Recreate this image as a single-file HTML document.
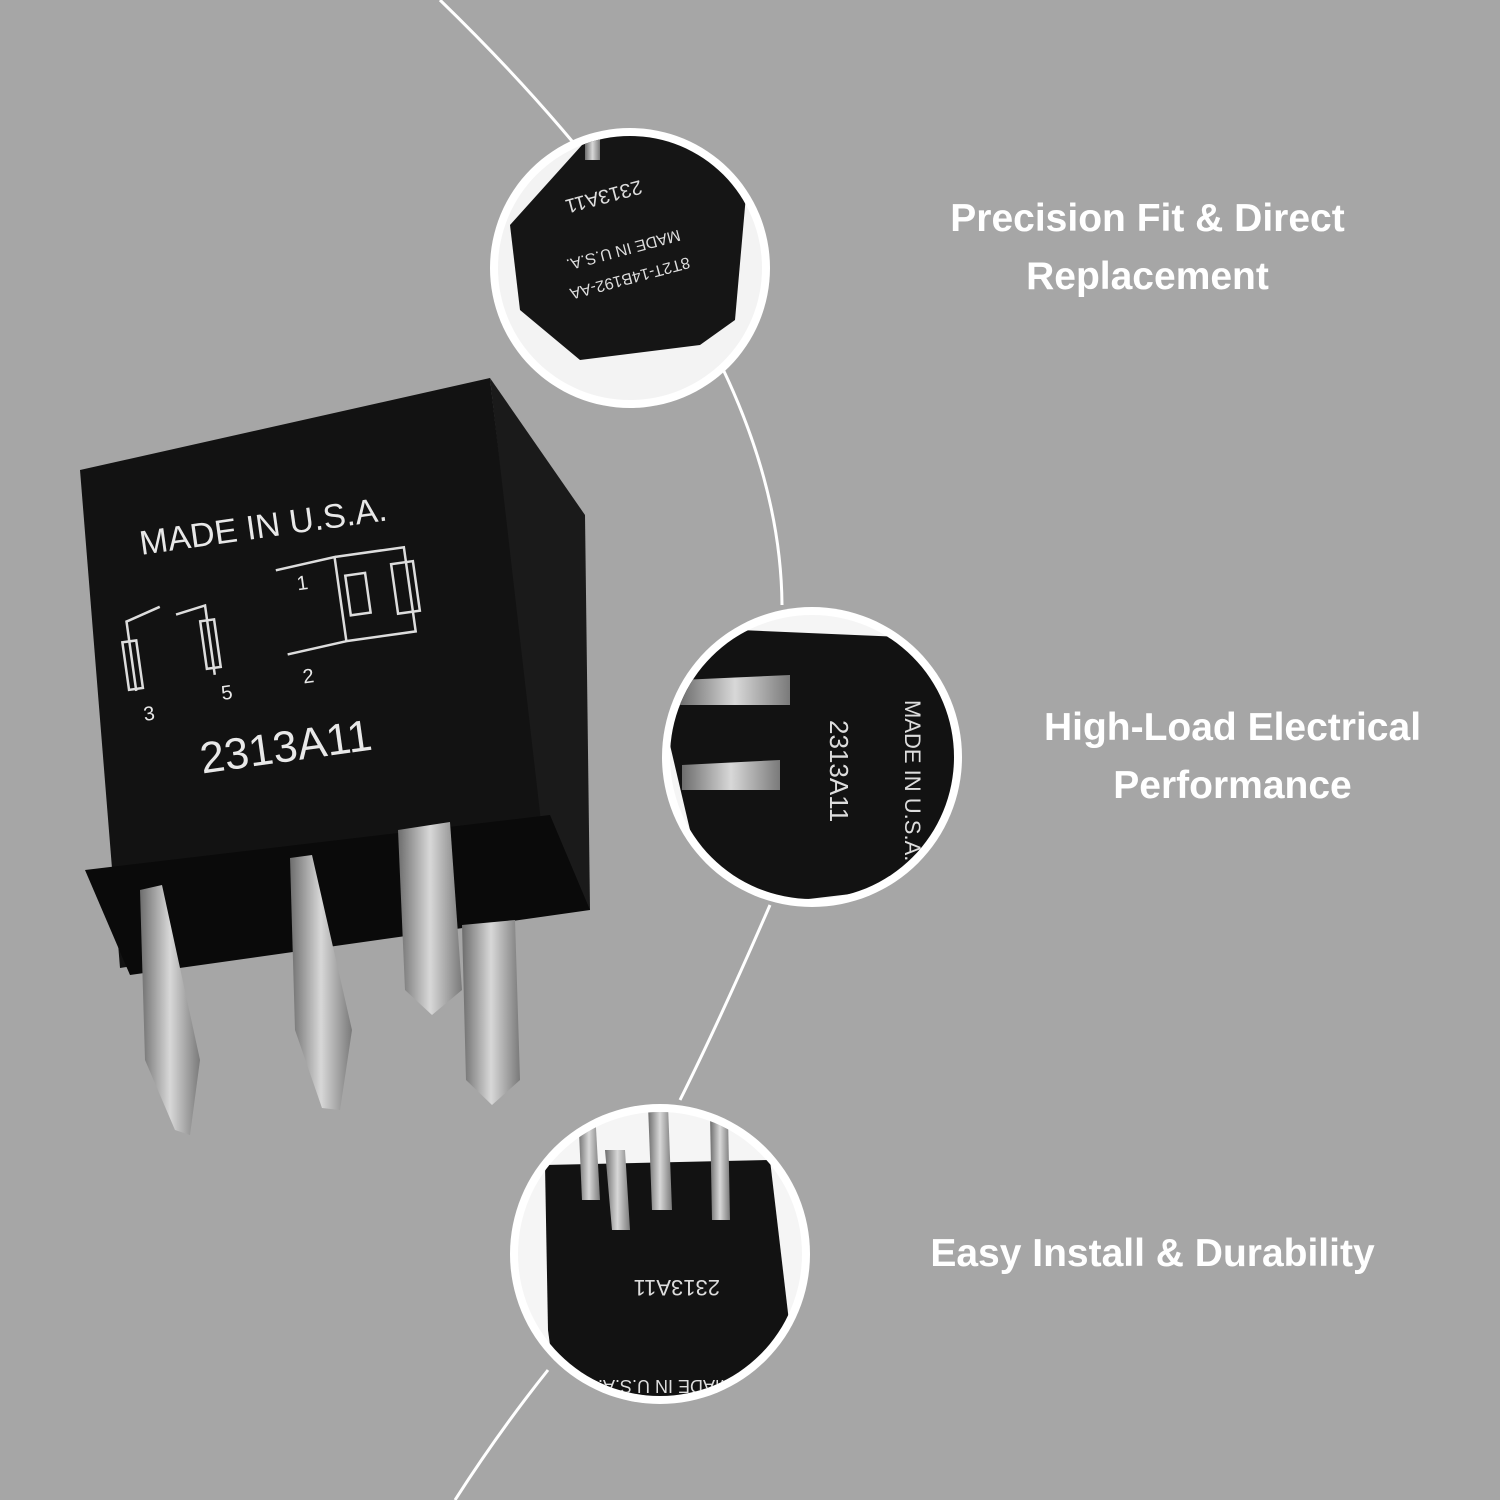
<!DOCTYPE html>
<html><head><meta charset="utf-8"><style>
html,body{margin:0;padding:0;}
body{width:1500px;height:1500px;background:#a6a6a6;overflow:hidden;position:relative;font-family:"Liberation Sans",sans-serif;}
.t{position:absolute;color:#fff;font-weight:bold;font-size:39px;text-align:center;line-height:58px;}
</style></head><body>
<svg width="1500" height="1500" style="position:absolute;left:0;top:0">
<defs>
<linearGradient id="pin" x1="0" x2="1"><stop offset="0" stop-color="#6d6d6d"/><stop offset="0.5" stop-color="#d8d8d8"/><stop offset="1" stop-color="#7a7a7a"/></linearGradient>
<clipPath id="c1"><circle cx="630" cy="268" r="132"/></clipPath>
<clipPath id="c2"><circle cx="812" cy="757" r="142"/></clipPath>
<clipPath id="c3"><circle cx="660" cy="1254" r="142"/></clipPath>
</defs>
<path d="M440 0 Q780 330 782 605 M770 905 Q720 1020 680 1100 M548 1370 Q500 1430 455 1500" stroke="#fff" stroke-width="3" fill="none"/>
<!-- main relay -->
<polygon points="490,378 585,515 590,910 548,900" fill="#1a1a1a"/>
<polygon points="80,470 490,378 550,900 120,968" fill="#121212"/>
<polygon points="85,870 550,815 590,910 130,975" fill="#0a0a0a"/>
<polygon points="140,890 162,885 200,1060 190,1135 175,1130 145,1060" fill="url(#pin)"/>
<polygon points="290,858 312,855 352,1030 340,1110 322,1108 295,1030" fill="url(#pin)"/>
<polygon points="398,830 450,822 462,990 432,1015 405,990" fill="url(#pin)"/>
<polygon points="462,925 515,920 520,1080 492,1105 466,1080" fill="url(#pin)"/>
<g fill="#e8e8e8" font-family="Liberation Sans" transform="rotate(-8 280 500)">
<text x="135" y="535" font-size="34">MADE IN U.S.A.</text>
<text x="165" y="760" font-size="44">2313A11</text>
<text x="115" y="700" font-size="20">3</text><text x="195" y="690" font-size="20">5</text><text x="278" y="685" font-size="20">2</text><text x="285" y="592" font-size="20">1</text>
</g>
<g stroke="#ddd" stroke-width="2.5" fill="none" transform="rotate(-8 280 600)">
<path d="M125 670 V600 L160 590 M175 600 L205 595 V665"/><rect x="118" y="620" width="14" height="48"/><rect x="198" y="610" width="14" height="48"/>
<path d="M280 570 L340 565 V650 L280 655 M340 565 H410 V650 H340"/><rect x="395" y="580" width="22" height="50"/><rect x="348" y="585" width="20" height="40"/>
</g>
<!-- circles -->
<circle cx="630" cy="268" r="140" fill="#fff"/>
<g clip-path="url(#c1)">
<rect x="480" y="120" width="300" height="300" fill="#f3f3f3"/>
<polygon points="510,225 600,125 750,150 735,320 700,345 580,360 520,310" fill="#151515"/>
<polygon points="585,122 600,122 600,160 585,160" fill="url(#pin)"/>
<polygon points="732,140 745,140 745,175 732,175" fill="url(#pin)"/>
<g fill="#ddd" font-size="20">
<text transform="rotate(165 640 180)" x="640" y="180">2313A11</text>
<text transform="rotate(165 640 240)" x="600" y="240" font-size="16">MADE IN U.S.A.</text>
<text transform="rotate(165 640 270)" x="590" y="270" font-size="16">8T2T-14B192-AA</text>
</g>
</g>
<circle cx="812" cy="757" r="150" fill="#fff"/>
<g clip-path="url(#c2)">
<rect x="660" y="600" width="310" height="310" fill="#f5f5f5"/>
<polygon points="650,660 740,630 970,640 970,880 800,900 720,890 690,830" fill="#121212"/>
<polygon points="680,680 790,675 790,705 680,705" fill="url(#pin)"/>
<polygon points="682,765 780,760 780,790 682,790" fill="url(#pin)"/>
<g fill="#ddd" font-size="22">
<text transform="rotate(90 905 700)" x="905" y="700">MADE IN U.S.A.</text>
<text transform="rotate(90 830 720)" x="830" y="720" font-size="26">2313A11</text>
</g>
</g>
<circle cx="660" cy="1254" r="150" fill="#fff"/>
<g clip-path="url(#c3)">
<rect x="510" y="1100" width="310" height="310" fill="#f5f5f5"/>
<polygon points="545,1165 770,1160 790,1330 775,1420 560,1420 548,1330" fill="#121212"/>
<polygon points="578,1110 595,1110 600,1200 582,1200" fill="url(#pin)"/>
<polygon points="605,1150 625,1150 630,1230 612,1230" fill="url(#pin)"/>
<polygon points="648,1105 668,1105 672,1210 652,1210" fill="url(#pin)"/>
<polygon points="710,1115 728,1115 730,1220 712,1220" fill="url(#pin)"/>
<g fill="#ddd" font-size="22">
<text transform="rotate(180 660 1280)" x="600" y="1280">2313A11</text>
<text transform="rotate(180 660 1380)" x="590" y="1380" font-size="18">MADE IN U.S.A.</text>
</g>
</g>
</svg>
<div class="t" style="left:890px;top:190px;width:515px">Precision Fit &amp; Direct<br>Replacement</div>
<div class="t" style="left:975px;top:699px;width:515px">High-Load Electrical<br>Performance</div>
<div class="t" style="left:880px;top:1225px;width:545px">Easy Install &amp; Durability</div>
</body></html>
